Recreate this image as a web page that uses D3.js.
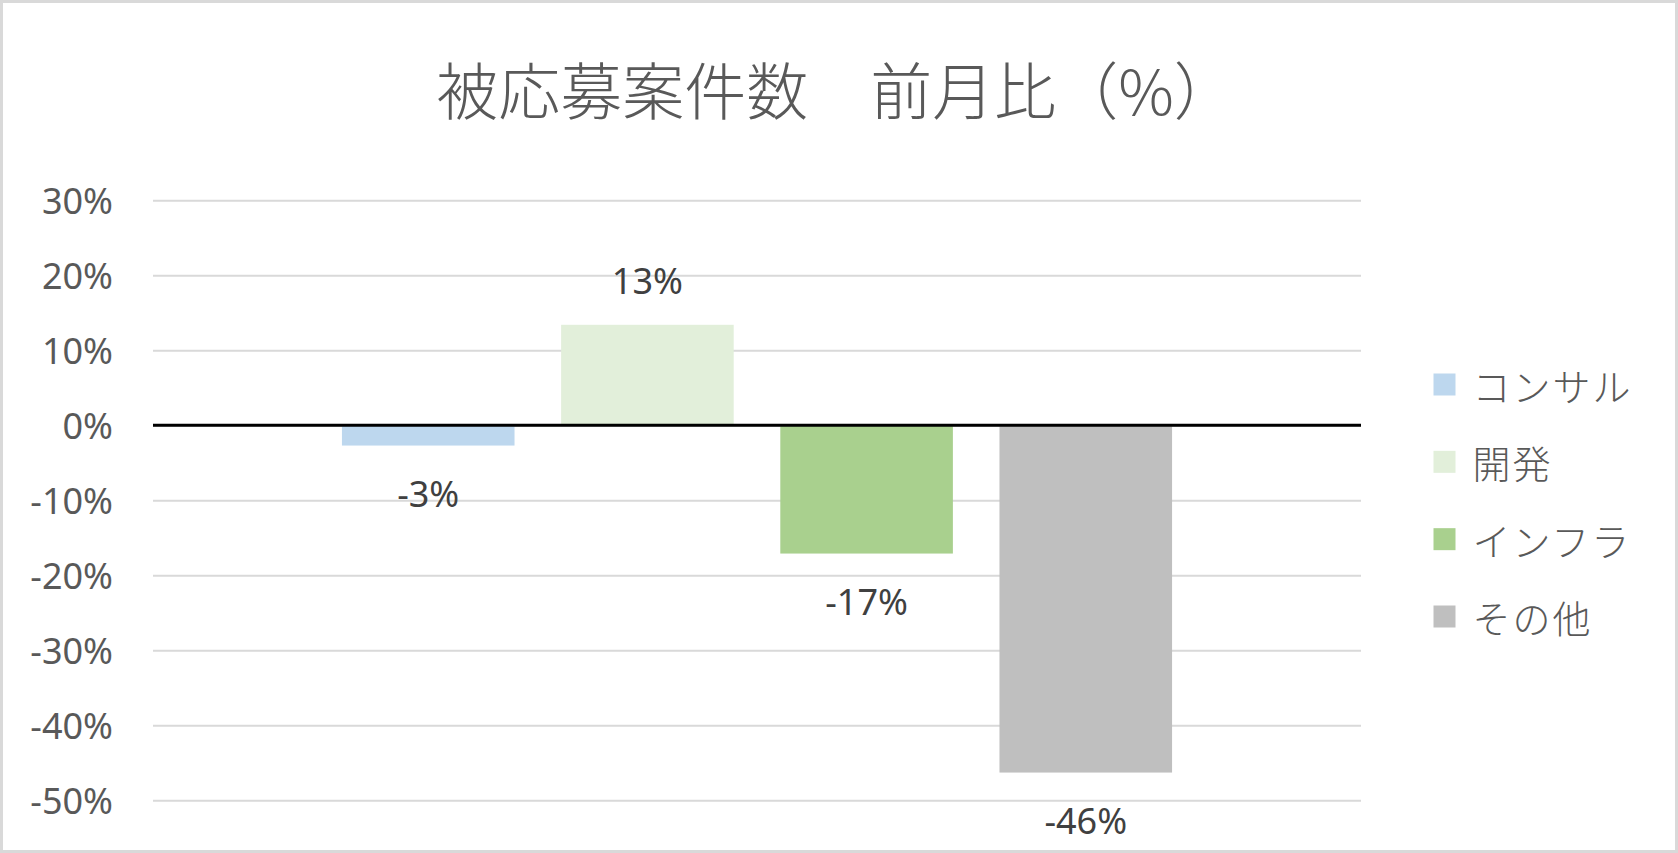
<!DOCTYPE html>
<html lang="ja">
<head>
<meta charset="utf-8">
<script src="https://cdn.jsdelivr.net/npm/d3@7"></script>
<style>
  html, body { margin: 0; padding: 0; background: #ffffff; }
  svg { display: block; }
</style>
</head>
<body>
<svg id="chart" width="1678" height="853"></svg>
<script>
// Month-over-month change in number of applied-to projects, by segment
const seriesNames = ["コンサル", "開発", "インフラ", "その他"];
const seriesValues = [-0.027, 0.134, -0.171, -0.463];
const seriesColors = ["#bdd7ee", "#e2efda", "#a9d08e", "#bfbfbf"];
const tickValues = [-0.5, -0.4, -0.3, -0.2, -0.1, 0, 0.1, 0.2, 0.3];
const titleText = "被応募案件数　前月比（%）";

const W = 1678, H = 853;
const plot = { left: 153, right: 1361, top: 200.3, bottom: 800.3 };

const locale = d3.formatLocale({
  decimal: ".", thousands: ",", grouping: [3],
  currency: ["", ""], minus: "-", percent: "%"
});
const pct = locale.format(".0%");

const svg = d3.select("#chart");

// chart frame
svg.append("rect")
  .attr("x", 1.5).attr("y", 1.5)
  .attr("width", W - 3).attr("height", H - 3)
  .attr("fill", "#ffffff")
  .attr("stroke", "#d9d9d9")
  .attr("stroke-width", 3);

// title
svg.append("text")
  .attr("x", 836).attr("y", 88)
  .attr("text-anchor", "middle")
  .attr("dominant-baseline", "central")
  .attr("font-family", "'Noto Sans CJK JP', 'Noto Sans', sans-serif")
  .attr("font-weight", 300)
  .attr("font-size", 62)
  .attr("fill", "#595959")
  .text(titleText);

const y = d3.scaleLinear()
  .domain([d3.min(tickValues), d3.max(tickValues)])
  .range([plot.bottom, plot.top]);

// one category with four clustered series (gap width 219%, overlap -27%)
const x = d3.scaleBand()
  .domain(seriesNames)
  .range([plot.left, plot.right])
  .paddingInner(0.2126)
  .paddingOuter(0.862);

// value axis with gridlines
const yAxis = d3.axisLeft(y)
  .tickValues(tickValues)
  .tickFormat(pct)
  .tickSize(-(plot.right - plot.left))
  .tickPadding(40);

const gAxis = svg.append("g")
  .attr("transform", `translate(${plot.left},0)`)
  .call(yAxis);
gAxis.select(".domain").remove();
gAxis.selectAll(".tick line")
  .attr("stroke", "#d9d9d9")
  .attr("stroke-width", 2);
gAxis.selectAll(".tick text")
  .attr("font-family", "'Noto Sans', sans-serif")
  .attr("font-size", 36)
  .attr("fill", "#595959")
  .attr("dy", null)
  .attr("dominant-baseline", "central");

// bars
svg.append("g")
  .selectAll("rect")
  .data(seriesNames.map((n, i) => ({ name: n, value: seriesValues[i], color: seriesColors[i] })))
  .join("rect")
  .attr("x", d => x(d.name))
  .attr("width", x.bandwidth())
  .attr("y", d => y(Math.max(0, d.value)))
  .attr("height", d => Math.abs(y(d.value) - y(0)))
  .attr("fill", d => d.color);

// zero line
svg.append("line")
  .attr("x1", plot.left).attr("x2", plot.right)
  .attr("y1", y(0)).attr("y2", y(0))
  .attr("stroke", "#000000")
  .attr("stroke-width", 3);

// data labels outside bar ends
svg.append("g")
  .selectAll("text")
  .data(seriesNames.map((n, i) => ({ name: n, value: seriesValues[i] })))
  .join("text")
  .attr("x", d => x(d.name) + x.bandwidth() / 2)
  .attr("y", d => d.value >= 0 ? y(d.value) - 44 : y(d.value) + 48)
  .attr("text-anchor", "middle")
  .attr("dominant-baseline", "central")
  .attr("font-family", "'Noto Sans', sans-serif")
  .attr("font-size", 36)
  .attr("fill", "#404040")
  .text(d => pct(d.value));

// legend
const legendY = d3.scalePoint()
  .domain(seriesNames)
  .range([384.5, 616.5]);

const legend = svg.append("g")
  .selectAll("g")
  .data(seriesNames.map((n, i) => ({ name: n, color: seriesColors[i] })))
  .join("g")
  .attr("transform", d => `translate(1433.5,${legendY(d.name)})`);

legend.append("rect")
  .attr("x", 0).attr("y", -11)
  .attr("width", 22).attr("height", 22)
  .attr("fill", d => d.color);

legend.append("text")
  .attr("x", 39).attr("y", 0)
  .attr("dominant-baseline", "central")
  .attr("font-family", "'Noto Sans CJK JP', sans-serif")
  .attr("font-weight", 300)
  .attr("font-size", 38)
  .attr("letter-spacing", 2)
  .attr("fill", "#595959")
  .text(d => d.name);
</script>
</body>
</html>
